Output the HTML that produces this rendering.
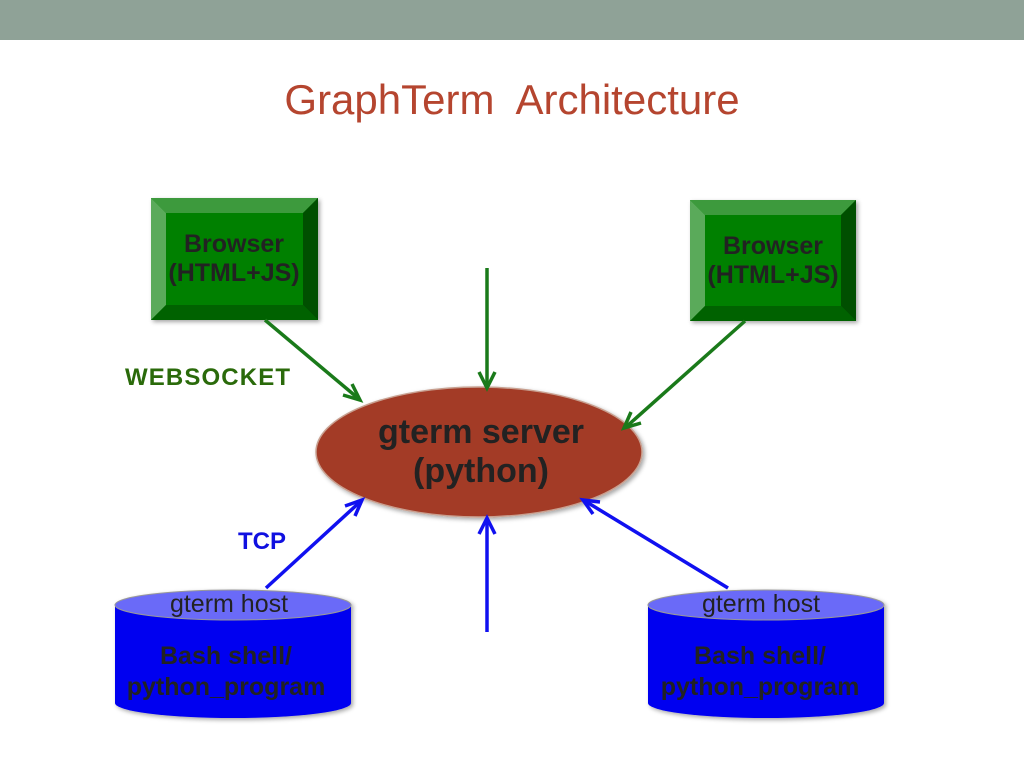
<!DOCTYPE html>
<html><head><style>
body{margin:0;width:1024px;height:768px;background:#fff;overflow:hidden;font-family:"Liberation Sans",sans-serif}
</style></head><body>
<svg width="1024" height="768" xmlns="http://www.w3.org/2000/svg" font-family="Liberation Sans, sans-serif">
<defs>
<filter id="sh" x="-10%" y="-10%" width="130%" height="130%"><feDropShadow dx="2" dy="2" stdDeviation="2" flood-opacity="0.35"/></filter>
</defs>
<rect x="0" y="0" width="1024" height="40" fill="#8fa297"/>
<text x="512" y="114" text-anchor="middle" font-size="42" fill="#b5452f" xml:space="preserve">GraphTerm  Architecture</text>

<g filter="url(#sh)">
<rect x="151" y="198" width="167" height="122" fill="#0a7a0a"/>
<polygon points="151,198 318,198 303,213 166,213" fill="#3c9a3c"/>
<polygon points="151,198 166,213 166,305 151,320" fill="#5aaa5a"/>
<polygon points="318,198 318,320 303,305 303,213" fill="#005000"/>
<polygon points="151,320 318,320 303,305 166,305" fill="#006200"/>
<rect x="166" y="213" width="137" height="92" fill="#008000"/>
</g>
<text x="234" y="252" text-anchor="middle" font-size="25" font-weight="bold" fill="#222">Browser</text>
<text x="234" y="281" text-anchor="middle" font-size="25" font-weight="bold" fill="#222">(HTML+JS)</text>

<g filter="url(#sh)">
<rect x="690" y="200" width="166" height="121" fill="#0a7a0a"/>
<polygon points="690,200 856,200 841,215 705,215" fill="#3c9a3c"/>
<polygon points="690,200 705,215 705,306 690,321" fill="#5aaa5a"/>
<polygon points="856,200 856,321 841,306 841,215" fill="#005000"/>
<polygon points="690,321 856,321 841,306 705,306" fill="#006200"/>
<rect x="705" y="215" width="136" height="91" fill="#008000"/>
</g>
<text x="773" y="254" text-anchor="middle" font-size="25" font-weight="bold" fill="#222">Browser</text>
<text x="773" y="283" text-anchor="middle" font-size="25" font-weight="bold" fill="#222">(HTML+JS)</text>

<text x="125" y="385" font-size="24" font-weight="bold" fill="#2a6a0a" textLength="165">WEBSOCKET</text>
<text x="238" y="549" font-size="24" font-weight="bold" fill="#1010e0">TCP</text>

<ellipse cx="479" cy="452" rx="163" ry="65" fill="#a33a28" stroke="#c8a090" stroke-width="1.5" filter="url(#sh)"/>
<text x="481" y="443" text-anchor="middle" font-size="34" font-weight="bold" fill="#222">gterm server</text>
<text x="481" y="482" text-anchor="middle" font-size="34" font-weight="bold" fill="#222">(python)</text>

<g stroke="#1a7a1a" stroke-width="3.5" fill="none">
<line x1="265" y1="320" x2="359" y2="399"/><polyline points="352,384 360,400 343,395"/>
<line x1="487" y1="268" x2="487" y2="386"/><polyline points="479,372 487,388 495,372"/>
<line x1="745" y1="321" x2="626" y2="427"/><polyline points="631,412 624,428 641,423"/>
</g>
<g stroke="#1010f0" stroke-width="3.5" fill="none">
<line x1="266" y1="588" x2="361" y2="501"/><polyline points="345,506 362,500 355,516"/>
<line x1="487" y1="632" x2="487" y2="520"/><polyline points="479,534 487,518 495,534"/>
<line x1="728" y1="588" x2="585" y2="501"/><polyline points="600,502 583,500 593,514"/>
</g>

<g filter="url(#sh)">
<path d="M115,605 L115,703 A118,15 0 0 0 351,703 L351,605 Z" fill="#0000f0"/>
<ellipse cx="233" cy="605" rx="118" ry="15" fill="#6a6af8" stroke="#999" stroke-width="1"/>
<path d="M648,605 L648,703 A118,15 0 0 0 884,703 L884,605 Z" fill="#0000f0"/>
<ellipse cx="766" cy="605" rx="118" ry="15" fill="#6a6af8" stroke="#999" stroke-width="1"/>
</g>
<g font-size="25" fill="#222" text-anchor="middle">
<text x="229" y="612">gterm host</text>
<text x="761" y="612">gterm host</text>
<g font-weight="bold"><text x="226" y="664">Bash shell/</text><text x="226" y="695">python_program</text>
<text x="760" y="664">Bash shell/</text><text x="760" y="695">python_program</text></g>
</g>
</svg>
</body></html>
